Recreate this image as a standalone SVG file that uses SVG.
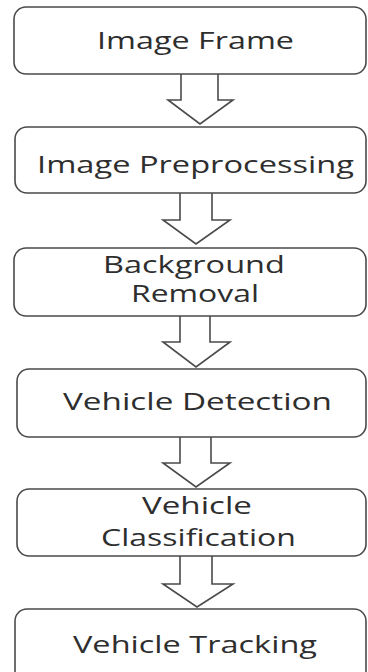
<svg xmlns="http://www.w3.org/2000/svg" width="368" height="672" viewBox="0 0 368 672">
<style>
.box{fill:#fff;stroke:#4a4a4a;stroke-width:1.6}
.arr{fill:#fff;stroke:#4a4a4a;stroke-width:1.6;stroke-linejoin:miter}
.t{font-family:"Open Sans","Liberation Sans",sans-serif;font-size:24px;font-weight:500;fill:#2e2e2e;text-anchor:middle}
</style>
<rect width="368" height="672" fill="#fff"/>
<g id="connectors">
<path class="arr" d="M181,74 V100 H168 L200,124 L233,100 H218 V74"/>
<path class="arr" d="M180,193 V220 H163 L196,244 L230,220 H212 V193"/>
<path class="arr" d="M180,316 V342 H163 L196,367 L230,342 H210 V316"/>
<path class="arr" d="M180,437 V463 H163 L196,487 L230,463 H211 V437"/>
<path class="arr" d="M180,556 V584 H163 L197,607 L233,584 H212 V556"/>
</g>
<g id="n1"><rect class="box" x="14" y="7" width="352" height="67" rx="12"/><text class="t" transform="scale(1.3,1)" x="150.4" y="49" textLength="151.5" lengthAdjust="spacingAndGlyphs">Image Frame</text></g>
<g id="n2"><rect class="box" x="15" y="127" width="351" height="66" rx="12"/><text class="t" transform="scale(1.3,1)" x="150.4" y="173" textLength="243.8" lengthAdjust="spacingAndGlyphs">Image Preprocessing</text></g>
<g id="n3"><rect class="box" x="14" y="248" width="352" height="68" rx="12"/><text class="t" transform="scale(1.3,1)" x="149.2" y="273" textLength="140" lengthAdjust="spacingAndGlyphs">Background</text><text class="t" transform="scale(1.3,1)" x="150" y="302" textLength="98.5" lengthAdjust="spacingAndGlyphs">Removal</text></g>
<g id="n4"><rect class="box" x="17" y="369" width="349" height="68" rx="12"/><text class="t" transform="scale(1.3,1)" x="151.9" y="410" textLength="206.9" lengthAdjust="spacingAndGlyphs">Vehicle Detection</text></g>
<g id="n5"><rect class="box" x="17" y="489" width="349" height="67" rx="12"/><text class="t" transform="scale(1.3,1)" x="151.5" y="514" textLength="84.6" lengthAdjust="spacingAndGlyphs">Vehicle</text><text class="t" transform="scale(1.3,1)" x="152.7" y="546" textLength="150" lengthAdjust="spacingAndGlyphs">Classification</text></g>
<g id="n6"><rect class="box" x="15" y="609" width="351" height="80" rx="12"/><text class="t" transform="scale(1.3,1)" x="150" y="653" textLength="187.7" lengthAdjust="spacingAndGlyphs">Vehicle Tracking</text></g>
</svg>
